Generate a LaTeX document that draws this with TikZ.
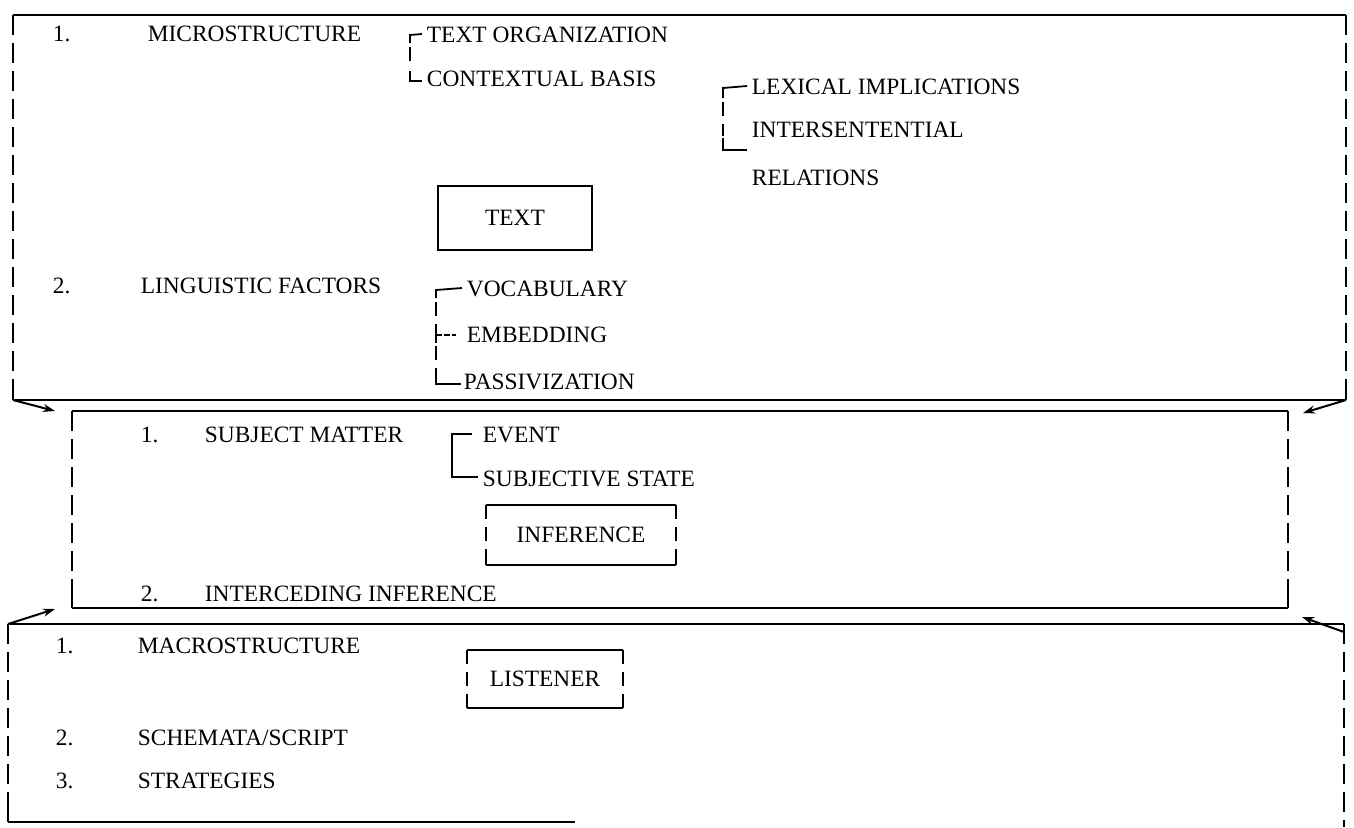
\documentclass[tikz,border=0pt]{standalone}
\usepackage{fontspec}
\setmainfont{Liberation Serif}
\usetikzlibrary{arrows.meta}
\begin{document}
\begin{tikzpicture}[x=0.5pt,y=-0.5pt,line width=0.9pt,
  lbl/.style={anchor=west,inner sep=0pt,text height=8pt,text depth=0pt,font=\fontsize{11.7}{13}\selectfont},
  boxdash/.style={dash pattern=on 10pt off 4pt},
  brdash/.style={dash pattern=on 7pt off 4pt},
  flow/.style={-{Stealth[length=6pt,width=4pt]},line width=1pt}]
\useasboundingbox (0,0) rectangle (1354,827);

% ---------- top box (TEXT) ----------
\coordinate (A1) at (13,15);
\coordinate (A2) at (1346,15);
\coordinate (A3) at (1346,400);
\coordinate (A4) at (13,400);
\draw (A1) -- (A2);
\draw (A4) -- (A3);
\draw[boxdash] (A1) -- (A4);
\draw[boxdash] (A2) -- (A3);
\draw (A4) -- ++(0,-10);
\draw (A3) -- ++(0,-10);

\node[lbl] (n1) at (52,33) {1.};
\node[lbl] (micro) at (147,33) {MICROSTRUCTURE};
\node[lbl] (org) at (426,34) {TEXT ORGANIZATION};
\node[lbl] (ctx) at (426,78) {CONTEXTUAL BASIS};
\node[lbl] (lex) at (751,86) {LEXICAL IMPLICATIONS};
\node[lbl] (inter) at (751,129) {INTERSENTENTIAL};
\node[lbl] (rel) at (751,177) {RELATIONS};
\node[draw,minimum width=77pt,minimum height=32pt,inner sep=0pt,font=\fontsize{11.7}{13}\selectfont] (text) at (515,218) {TEXT};
\node[lbl] (n2) at (52,285) {2.};
\node[lbl] (ling) at (140,285) {LINGUISTIC FACTORS};
\node[lbl] (voc) at (466,288) {VOCABULARY};
\node[lbl] (emb) at (466,334) {EMBEDDING};
\node[lbl] (pas) at (463,381) {PASSIVIZATION};

% brackets of the top box
\coordinate (b1t) at (410,35);
\coordinate (b1b) at (410,81);
\draw ([xshift=-2pt]org.west) -- (b1t) -- ++(0,8);
\draw[brdash] ([yshift=-6pt]b1t) -- ([yshift=6pt]b1b);
\draw ([xshift=-2pt]ctx.west|-b1b) -- (b1b) -- ++(0,-10);

\coordinate (b2t) at (723,88);
\coordinate (b2b) at (723,150);
\draw ([xshift=-2pt]lex.west) -- (b2t) -- ++(0,10);
\draw[brdash] ([yshift=-7pt]b2t) -- ([yshift=7pt]b2b);
\draw ([xshift=-2pt]inter.west|-b2b) -- (b2b) -- ++(0,-12);

\coordinate (b3t) at (436,290);
\coordinate (b3m) at (436,335);
\coordinate (b3b) at (436,384);
\draw ([xshift=-2pt]voc.west) -- (b3t) -- ++(0,8);
\draw[brdash] ([yshift=-6pt]b3t) -- ([yshift=6pt]b3b);
\draw (b3m) ++(0,-8) -- ++(0,16);
\draw[dash pattern=on 3pt off 1pt] (b3m) -- ([xshift=-5pt]emb.west|-b3m);
\draw ([xshift=-1pt]pas.west|-b3b) -- (b3b) -- ++(0,-14);

% ---------- middle box (INFERENCE) ----------
\coordinate (B1) at (72,411);
\coordinate (B2) at (1288,411);
\coordinate (B3) at (1288,608);
\coordinate (B4) at (72,608);
\draw (B1) -- (B2);
\draw (B4) -- (B3);
\draw[boxdash] (B1) -- (B4);
\draw[boxdash] (B2) -- (B3);
\draw (B4) -- ++(0,-12);
\draw (B3) -- ++(0,-12);

\node[lbl] (m1) at (140,434) {1.};
\node[lbl] (subj) at (204,434) {SUBJECT MATTER};
\node[lbl] (event) at (482,434) {EVENT};
\node[lbl] (sstate) at (482,478) {SUBJECTIVE STATE};
\node[minimum width=94pt,minimum height=29pt,inner sep=0pt,font=\fontsize{11.7}{13}\selectfont] (infer) at (581,535) {INFERENCE};
\draw (infer.north west) -- (infer.north east);
\draw (infer.south west) -- (infer.south east);
\draw[brdash] (infer.north west) -- (infer.south west);
\draw[brdash] (infer.north east) -- (infer.south east);
\draw (infer.south west) -- ++(0,-10);
\draw (infer.south east) -- ++(0,-10);
\node[lbl] (m2) at (140,593) {2.};
\node[lbl] (interc) at (204,593) {INTERCEDING INFERENCE};

\coordinate (b4t) at (452,434);
\coordinate (b4b) at (452,477);
\draw ([xshift=-5pt]event.west) -- (b4t) -- (b4b) -- ([xshift=-2pt]sstate.west|-b4b);

% ---------- bottom box (LISTENER) ----------
\coordinate (C1) at (8,624);
\coordinate (C2) at (1344,624);
\coordinate (C3) at (1344,827);
\coordinate (C4) at (8,822);
\coordinate (C5) at (575,822);
\draw (C1) -- (C2);
\draw (C4) -- (C5);
\draw[boxdash] (C1) -- (C4);
\draw[boxdash] (C2) -- (C3);
\draw (C4) -- ++(0,-12);

\node[lbl] (l1) at (55,645) {1.};
\node[lbl] (macro) at (137,645) {MACROSTRUCTURE};
\node[minimum width=77pt,minimum height=28pt,inner sep=0pt,font=\fontsize{11.7}{13}\selectfont] (listener) at (545,679) {LISTENER};
\draw (listener.north west) -- (listener.north east);
\draw (listener.south west) -- (listener.south east);
\draw[brdash] (listener.north west) -- (listener.south west);
\draw[brdash] (listener.north east) -- (listener.south east);
\draw (listener.south west) -- ++(0,-10);
\draw (listener.south east) -- ++(0,-10);
\node[lbl] (l2) at (55,737) {2.};
\node[lbl] (schem) at (137,737) {SCHEMATA/SCRIPT};
\node[lbl] (l3) at (55,780) {3.};
\node[lbl] (strat) at (137,780) {STRATEGIES};

% ---------- arrows between boxes ----------
\coordinate (t1) at (55,411);
\coordinate (t2) at (1303,413);
\coordinate (t3) at (55,609);
\coordinate (t4) at (1302,617);
\draw[flow] (A4) -- (t1);
\draw[flow] (A3) -- (t2);
\draw[flow] (C1) -- (t3);
\draw[flow] ([yshift=-4pt]C2) -- (t4);
\end{tikzpicture}
\end{document}
